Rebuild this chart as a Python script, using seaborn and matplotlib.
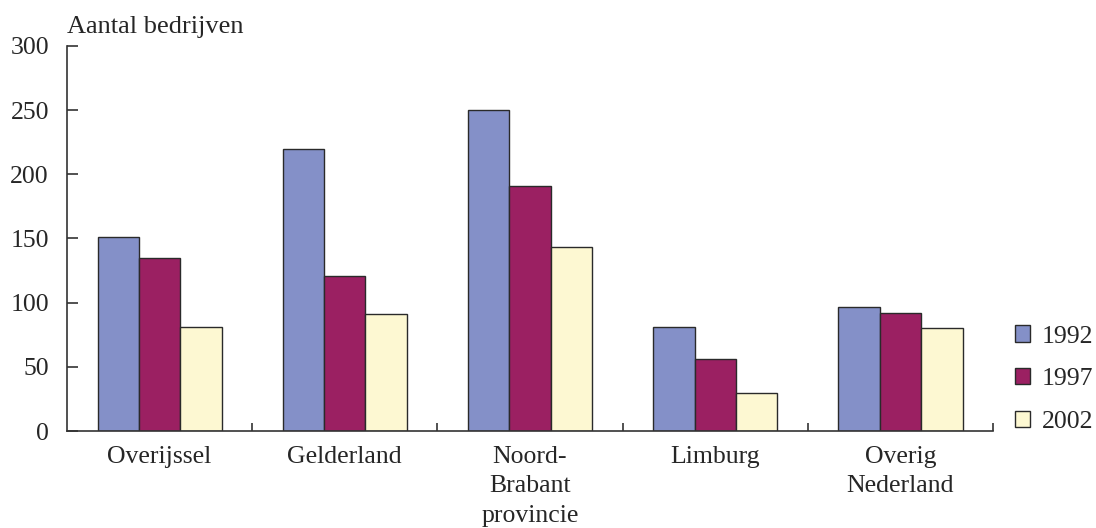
import matplotlib
matplotlib.use("Agg")
import matplotlib.pyplot as plt
import seaborn as sns
import pandas as pd
from matplotlib.patches import Patch

# Number of companies per province and year
regions = ["Overijssel", "Gelderland", "Noord-\nBrabant\nprovincie", "Limburg", "Overig\nNederland"]
years = ["1992", "1997", "2002"]
v1992 = [151, 220, 250, 81, 97]
v1997 = [135, 121, 191, 56, 92]
v2002 = [81, 91, 143, 30, 80]
colors = ["#8490C8", "#9B2062", "#FDF8D2"]

rows = []
for yr, vals in zip(years, [v1992, v1997, v2002]):
    for r, v in zip(regions, vals):
        rows.append({"regio": r, "jaar": yr, "aantal": v})
df = pd.DataFrame(rows)

sns.set_theme(style="white")
plt.rcParams["font.family"] = ["Liberation Serif", "DejaVu Serif"]

fig = plt.figure(figsize=(10.96, 5.28), dpi=100)
ax = fig.add_axes([0.0611, 0.1837, 0.845, 0.7292])

sns.barplot(data=df, x="regio", y="aantal", hue="jaar", order=regions,
            hue_order=years, palette=colors, width=0.67, gap=0,
            edgecolor="#2a2a2a", linewidth=1.0, saturation=1, ax=ax,
            legend=False)

ax.set_ylim(0, 300)
ax.set_xlim(-0.5, len(regions) - 0.5)
ax.set_yticks([0, 50, 100, 150, 200, 250, 300])
ax.set_xlabel("")
ax.set_ylabel("")

for s in ["top", "right"]:
    ax.spines[s].set_visible(False)
for s in ["left", "bottom"]:
    ax.spines[s].set_color("#333333")
    ax.spines[s].set_linewidth(1.2)

ax.tick_params(axis="y", direction="in", length=8, width=1.2, color="#333333",
               labelsize=18.5, pad=13, left=True)
# category labels at group centres, boundary ticks between groups
ax.set_xticks(range(len(regions)))
ax.set_xticklabels(regions, fontsize=18.5, linespacing=1.42, va="top")
ax.tick_params(axis="x", length=0, pad=11)
ax.set_xticks([i + 0.5 for i in range(len(regions))], minor=True)
ax.tick_params(axis="x", which="minor", direction="in", length=6, width=1.2,
               color="#333333", bottom=True)

ax.annotate("Aantal bedrijven", xy=(0.0, 1.0), xycoords="axes fraction",
            xytext=(0, 6), textcoords="offset points",
            fontsize=19, ha="left", va="bottom")

handles = [Patch(facecolor=c, edgecolor="#2a2a2a", linewidth=1.0) for c in colors]
fig.legend(handles, years, loc="center left", bbox_to_anchor=(0.926, 0.282),
           frameon=False, fontsize=18.5, handlelength=0.6, handleheight=0.6,
           handletextpad=0.45, labelspacing=0.79, borderpad=0, borderaxespad=0)

fig.savefig("out.png", dpi=100, facecolor="white")
